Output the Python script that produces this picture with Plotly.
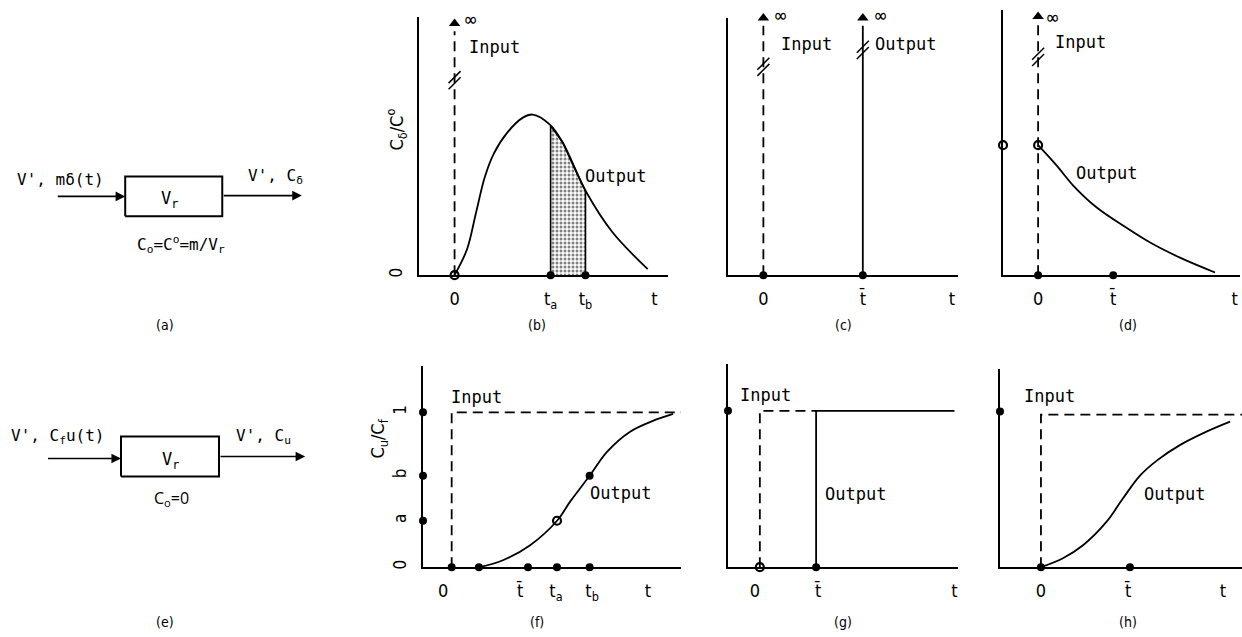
import plotly.graph_objects as go

W, H = 1242, 637
MONO = "DejaVu Sans Mono, Liberation Mono, monospace"
NARROW = "Liberation Sans Narrow, DejaVu Sans Condensed, Roboto Condensed, Noto Sans, sans-serif"
DASH = "10px,6px"

# ---- (b) impulse input, general vessel
b_t = [0, 0.35, 0.6, 0.85, 1.1, 1.47, 1.92, 2.2, 2.68, 3.04, 3.71, 4.44, 5.43]
b_c = [0, 0.10, 0.24, 0.38, 0.47, 0.55, 0.61, 0.622, 0.583, 0.514, 0.320, 0.166, 0.023]
b_ta, b_tb = 2.70, 3.68
shade_t = [2.70, 2.70, 2.85, 3.04, 3.35, 3.68, 3.68]
shade_c = [0, 0.578, 0.55, 0.514, 0.42, 0.325, 0]
b_ticks = [0, 2.70, 3.68, 5.62]
b_ticktext = ["0", "t<sub>a</sub>", "t<sub>b</sub>", "t"]

# ---- (c) impulse input, plug flow
c_tbar = 2.81
c_ticks = [0, 2.81, 5.33]
c_ticktext = ["0", "t\u0304", "t"]

# ---- (d) impulse input, stirred tank
d_t = [0, 0.53, 1.00, 1.67, 2.43, 3.19, 4.04, 5.04]
d_c = [0.49, 0.413, 0.338, 0.255, 0.186, 0.123, 0.066, 0.010]
d_tbar = 2.14
d_ticks = [0, 2.14, 5.6]
d_ticktext = ["0", "t\u0304", "t"]

# ---- (f) step input, general vessel
f_t = [0.76, 1.43, 2.19, 2.94, 3.31, 3.85, 4.34, 4.98, 5.63, 6.18]
f_c = [0, 0.045, 0.142, 0.30, 0.425, 0.59, 0.746, 0.875, 0.946, 0.99]
f_a, f_b = 0.30, 0.59
f_tbar, f_ta, f_tb = 2.13, 2.94, 3.85
f_ticks = [-0.24, 1.91, 2.91, 3.92, 5.48]
f_ticktext = ["0", "t\u0304", "t<sub>a</sub>", "t<sub>b</sub>", "t"]
f_yticks = [0, 0.30, 0.59, 1.0]
f_yticktext = ["0", "a", "b", "1"]

# ---- (g) step input, plug flow
g_tbar = 1.59
g_ticks = [-0.14, 1.65, 5.5]
g_ticktext = ["0", "t\u0304", "t"]

# ---- (h) step input, stirred tank
h_t = [0, 0.59, 1.13, 1.77, 2.20, 2.66, 3.12, 3.73, 4.46, 5.08]
h_c = [0, 0.059, 0.144, 0.30, 0.45, 0.60, 0.70, 0.80, 0.89, 0.954]
h_tbar = 2.39
h_ticks = [0, 2.34, 4.89]
h_ticktext = ["0", "t\u0304", "t"]

fig = go.Figure()


def nm(n, k):
    return k if n == 1 else f"{k}{n}"


def add(n, x, y, **kw):
    fig.add_trace(go.Scatter(x=x, y=y, xaxis=nm(n, "x"), yaxis=nm(n, "y"),
                             showlegend=False, hoverinfo="skip", cliponaxis=False, **kw))


def line(n, x, y, dash="solid", width=1.8, shape="linear"):
    add(n, x, y, mode="lines", line=dict(color="black", width=width, dash=dash, shape=shape))


def dots(n, x, y, open_=False):
    if open_:
        m = dict(symbol="circle-open", size=8, color="black", line=dict(width=2.2))
    else:
        m = dict(symbol="circle", size=8, color="black")
    add(n, x, y, mode="markers", marker=m)


def arrowhead(n, t, top):
    add(n, [t], [top], mode="markers", marker=dict(symbol="triangle-up", size=10, color="black"))


def brk(n, t, y):
    add(n, [t, t], [y - 0.012, y + 0.012], mode="markers",
        marker=dict(symbol="line-ne", size=12, line=dict(width=1.5, color="black")))


annots = []


def text(n, x, y, s, size=17, font=MONO, **kw):
    annots.append(dict(x=x, y=y, xref=nm(n, "x"), yref=nm(n, "y"), text=s, showarrow=False,
                       font=dict(family=font, size=size, color="black"), **kw))


def ptext(px, py, s, size=14, font=NARROW, **kw):
    annots.append(dict(x=px / W, y=1 - py / H, xref="paper", yref="paper", text=s, showarrow=False,
                       xanchor="center", yanchor="middle",
                       font=dict(family=font, size=size, color="black"), **kw))


# ---- (a) / (e) block diagrams (axes 1 and 5)
box_x = [0, 1, 1, 0, 0]
box_y = [0, 0, 1, 1, 0]
for n in (1, 5):
    line(n, box_x, box_y, width=2)


def arrow(n, x0, x1, y):
    annots.append(dict(x=x1, y=y, ax=x0, ay=y, xref=nm(n, "x"), yref=nm(n, "y"),
                       axref=nm(n, "x"), ayref=nm(n, "y"), text="", showarrow=True,
                       arrowhead=2, arrowsize=1.2, arrowwidth=1.6, arrowcolor="black", standoff=0))


arrow(1, -0.71, 0, 0.5)
arrow(1, 1, 1.82, 0.52)
text(1, -0.67, 0.92, "V', mδ(t)", size=16)
text(1, 1.55, 1.0, "V', C<sub>δ</sub>", size=16)
text(1, 0.46, 0.42, "V<sub>r</sub>", size=17)
text(1, 0.57, -0.7, "C<sub>o</sub>=C<sup>o</sup>=m/V<sub>r</sub>", size=16)

arrow(5, -0.76, 0, 0.45)
arrow(5, 1, 1.88, 0.5)
text(5, -0.65, 1.0, "V', C<sub>f</sub>u(t)", size=16)
text(5, 1.45, 1.0, "V', C<sub>u</sub>", size=16)
text(5, 0.5, 0.4, "V<sub>r</sub>", size=17)
text(5, 0.52, -0.55, "C<sub>o</sub>=0", size=16, font="Open Sans, Noto Sans, sans-serif")

# ---- (b)
add(2, shade_t, shade_c, mode="lines", fill="toself", fillcolor="white",
    fillpattern=dict(shape=".", fgcolor="black", bgcolor="white", size=4, solidity=0.45),
    line=dict(color="black", width=1.6))
line(2, b_t, b_c, shape="spline")
line(2, [0, 0], [0, 0.945], dash=DASH)
arrowhead(2, 0, 0.975)
brk(2, 0, 0.755)
dots(2, [0], [0], open_=True)
dots(2, [b_ta, b_tb], [0, 0])
text(2, 1.12, 0.885, "Input")
text(2, 4.53, 0.385, "Output")

# ---- (c)
line(3, [0, 0], [0, 0.97], dash=DASH)
arrowhead(3, 0, 1.0)
brk(3, 0, 0.81)
line(3, [c_tbar, c_tbar], [0, 0.97])
arrowhead(3, c_tbar, 1.0)
brk(3, c_tbar, 0.876)
dots(3, [0, c_tbar], [0, 0])
text(3, 1.23, 0.9, "Input")
text(3, 4.03, 0.9, "Output")

# ---- (d)
line(4, [0, 0], [0, 0.945], dash=DASH)
arrowhead(4, 0, 0.975)
brk(4, 0, 0.823)
line(4, d_t, d_c, shape="spline")
dots(4, [-1], [d_c[0]], open_=True)
dots(4, [0], [d_c[0]], open_=True)
dots(4, [0, d_tbar], [0, 0])
text(4, 1.22, 0.88, "Input")
text(4, 1.96, 0.387, "Output")

# ---- (f)
line(6, [0, 0, 6.4], [0, 1, 1], dash=DASH)
line(6, f_t, f_c, shape="spline")
dots(6, [-0.8, -0.8, -0.8], [1, f_b, f_a])
dots(6, [0, f_t[0], f_tbar, f_ta, f_tb], [0, 0, 0, 0, 0])
dots(6, [f_ta], [f_a], open_=True)
dots(6, [f_tb], [f_b])
text(6, 0.68, 1.1, "Input")
text(6, 4.7, 0.476, "Output")

# ---- (g)
line(7, [0, 0, g_tbar], [0, 1, 1], dash=DASH)
line(7, [g_tbar, g_tbar, 5.5], [0, 1, 1])
dots(7, [-0.9], [1])
dots(7, [0], [0], open_=True)
dots(7, [g_tbar], [0])
text(7, 0.15, 1.1, "Input")
text(7, 2.69, 0.47, "Output")

# ---- (h)
line(8, [0, 0, 5.4], [0, 1, 1], dash=DASH)
line(8, h_t, h_c, shape="spline")
dots(8, [-1.1], [1.02])
dots(8, [0, h_tbar], [0, 0])
text(8, 0.24, 1.12, "Input")
text(8, 3.6, 0.48, "Output")

# infinity marks, axis titles and panel letters
for px, py in [(470, 19), (780, 15), (880, 15), (1052, 17)]:
    ptext(px, py, "∞", size=19, font=MONO)
ptext(396, 130, "C<sub>δ</sub>/C<sup>o</sup>", size=18, textangle=-90)
ptext(379, 440, "C<sub>u</sub>/C<sub>f</sub>", size=18, textangle=-90)
for lab, px, py in [("(a)", 165, 326), ("(b)", 537, 326), ("(c)", 843, 326), ("(d)", 1128, 326),
                    ("(e)", 165, 624), ("(f)", 537, 624), ("(g)", 843, 624), ("(h)", 1128, 624)]:
    ptext(px, py, lab)

# panel geometry: x pixels, y pixels (top, bottom), x range, y range, ticks
panels = {
    1: ((0, 330), (140, 260), [-1.29, 2.11], [-1.075, 1.925], None, None),
    2: ((419, 668), (17, 276), [-1, 6], [0, 1], (b_ticks, b_ticktext), ([0], ["0"])),
    3: ((728, 958), (18, 276), [-1, 5.5], [0, 1], (c_ticks, c_ticktext), None),
    4: ((1003, 1240), (10, 276), [-1, 5.75], [0, 1], (d_ticks, d_ticktext), None),
    5: ((0, 330), (420, 540), [-1.235, 2.133], [-1.55, 1.45], None, None),
    6: ((423, 681), (367, 569), [-0.8, 6.4], [0, 1.3], (f_ticks, f_ticktext), (f_yticks, f_yticktext)),
    7: ((728, 958), (365, 569), [-0.9, 5.6], [0, 1.3], (g_ticks, g_ticktext), None),
    8: ((1000, 1242), (370, 569), [-1.1, 5.4], [0, 1.3], (h_ticks, h_ticktext), None),
}

layout = {}
for n, (xp, yp, xr, yr, xt, yt) in panels.items():
    show = n not in (1, 5)
    common = dict(showline=show, linecolor="black", linewidth=2, showgrid=False, zeroline=False,
                  ticks="", fixedrange=True, visible=show)
    xa = dict(domain=[xp[0] / W, xp[1] / W], range=xr, anchor=nm(n, "y"), **common)
    ya = dict(domain=[1 - yp[1] / H, 1 - yp[0] / H], range=yr, anchor=nm(n, "x"), **common)
    if xt:
        xa.update(tickvals=xt[0], ticktext=xt[1], ticklabelstandoff=6,
                  tickfont=dict(family=NARROW, size=18, color="black"))
    else:
        xa["showticklabels"] = False
    if yt:
        ya.update(tickvals=yt[0], ticktext=yt[1], tickangle=-90, ticklabelstandoff=8,
                  tickfont=dict(family=NARROW, size=17, color="black"))
    else:
        ya["showticklabels"] = False
    layout["xaxis" if n == 1 else f"xaxis{n}"] = xa
    layout["yaxis" if n == 1 else f"yaxis{n}"] = ya

fig.update_layout(
    width=W, height=H,
    margin=dict(l=0, r=0, t=0, b=0),
    paper_bgcolor="white",
    plot_bgcolor="rgba(0,0,0,0)",
    annotations=annots,
    **layout,
)

fig.write_html("out.html", config={"displayModeBar": False},
               post_script="document.body.style.margin='0';")
